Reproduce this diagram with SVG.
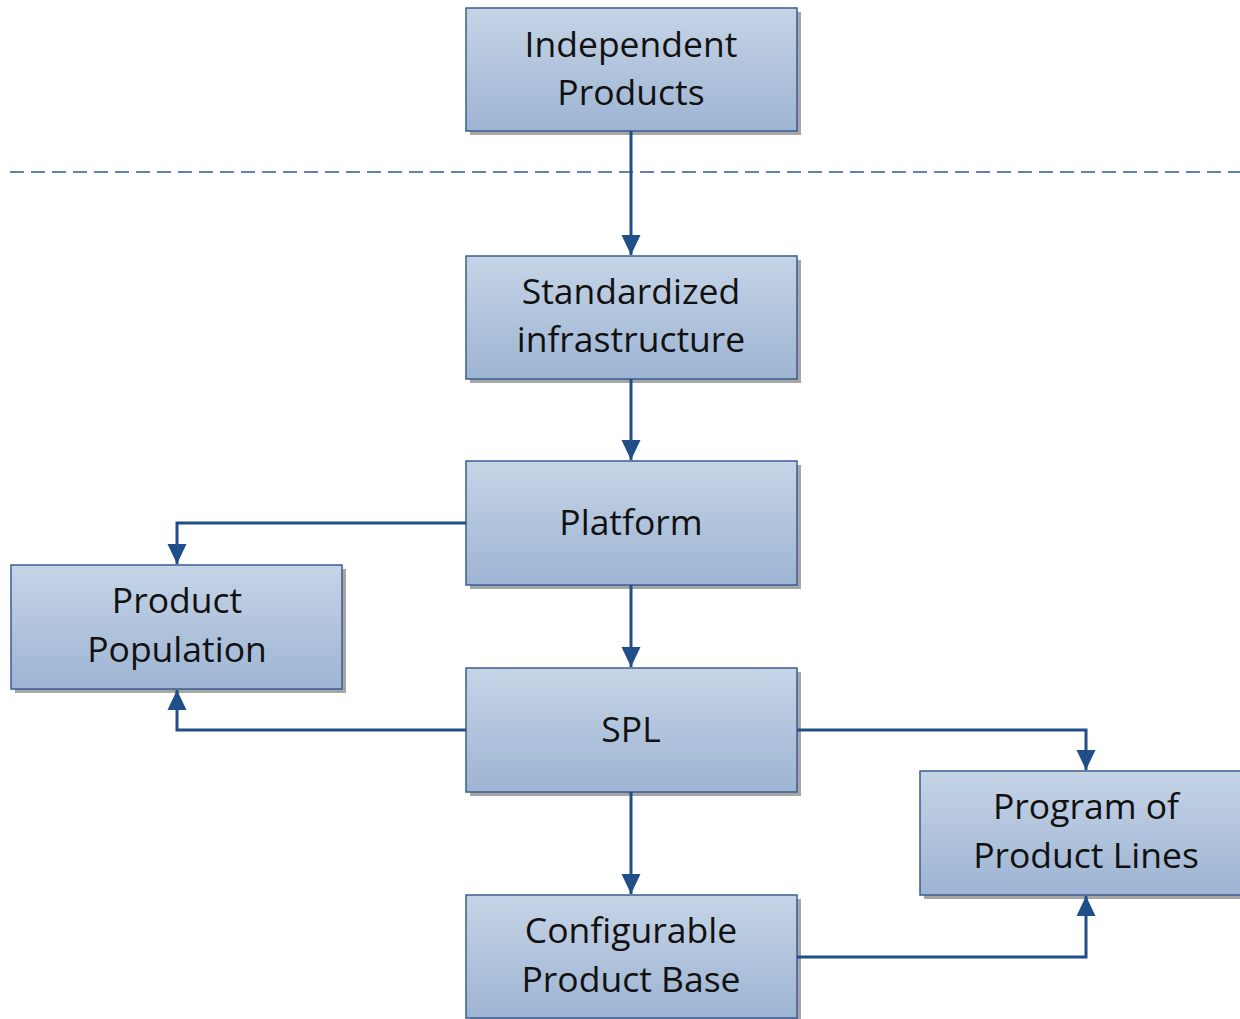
<svg xmlns="http://www.w3.org/2000/svg" width="1240" height="1019" viewBox="0 0 1240 1019">
  <defs>
    <linearGradient id="boxFill" x1="0" y1="0" x2="0" y2="1">
      <stop offset="0" stop-color="#C6D4E6"/>
      <stop offset="1" stop-color="#9DB4D3"/>
    </linearGradient>
    <marker id="arrowHead" viewBox="0 0 20 20" refX="20" refY="10" markerWidth="20" markerHeight="20" markerUnits="userSpaceOnUse" orient="auto">
      <path d="M0,0.5 L20,10 L0,19.5 z" fill="#1F4E89"/>
    </marker>
  </defs>
  <style>
    .shadow { fill: #A6A6A6; }
    .box { fill: url(#boxFill); stroke: #3A5D91; stroke-width: 1.5; }
    .label { font-family: "Open Sans", "Liberation Sans", sans-serif; font-size: 35.5px; fill: #111111; text-anchor: middle; }
    .conn { fill: none; stroke: #1F4E89; stroke-width: 3; marker-end: url(#arrowHead); }
  </style>

  <rect width="1240" height="1019" fill="#FFFFFF"/>

  <!-- phase separator -->
  <line x1="10" y1="172" x2="1240" y2="172" stroke="#2F5C8F" stroke-width="1.5" stroke-dasharray="14 7"/>

  <g id="independent-products">
    <rect class="shadow" x="470" y="12" width="331" height="123"/>
    <rect class="box" x="466" y="8" width="331" height="123"/>
    <text class="label" x="631" y="57">Independent</text>
    <text class="label" x="631" y="105">Products</text>
  </g>

  <g id="standardized-infrastructure">
    <rect class="shadow" x="470" y="260" width="331" height="123"/>
    <rect class="box" x="466" y="256" width="331" height="123"/>
    <text class="label" x="631" y="304">Standardized</text>
    <text class="label" x="631" y="352">infrastructure</text>
  </g>

  <g id="platform">
    <rect class="shadow" x="470" y="465" width="331" height="124"/>
    <rect class="box" x="466" y="461" width="331" height="124"/>
    <text class="label" x="631" y="535">Platform</text>
  </g>

  <g id="product-population">
    <rect class="shadow" x="15" y="569" width="331" height="124"/>
    <rect class="box" x="11" y="565" width="331" height="124"/>
    <text class="label" x="177" y="613">Product</text>
    <text class="label" x="177" y="662">Population</text>
  </g>

  <g id="spl">
    <rect class="shadow" x="470" y="672" width="331" height="124"/>
    <rect class="box" x="466" y="668" width="331" height="124"/>
    <text class="label" x="631" y="742">SPL</text>
  </g>

  <g id="program-of-product-lines">
    <rect class="shadow" x="924" y="775" width="331" height="124"/>
    <rect class="box" x="920" y="771" width="331" height="124"/>
    <text class="label" x="1086" y="819">Program of</text>
    <text class="label" x="1086" y="868">Product Lines</text>
  </g>

  <g id="configurable-product-base">
    <rect class="shadow" x="470" y="899" width="331" height="123"/>
    <rect class="box" x="466" y="895" width="331" height="123"/>
    <text class="label" x="631" y="943">Configurable</text>
    <text class="label" x="631" y="992">Product Base</text>
  </g>

  <g id="connectors">
    <path class="conn" d="M631,131 V255"/>
    <path class="conn" d="M631,379 V460"/>
    <path class="conn" d="M631,585 V667"/>
    <path class="conn" d="M631,792 V894"/>
    <path class="conn" d="M466,523 H177 V564"/>
    <path class="conn" d="M466,730 H177 V690"/>
    <path class="conn" d="M797,730 H1086 V770"/>
    <path class="conn" d="M797,957 H1086 V896"/>
  </g>
</svg>
